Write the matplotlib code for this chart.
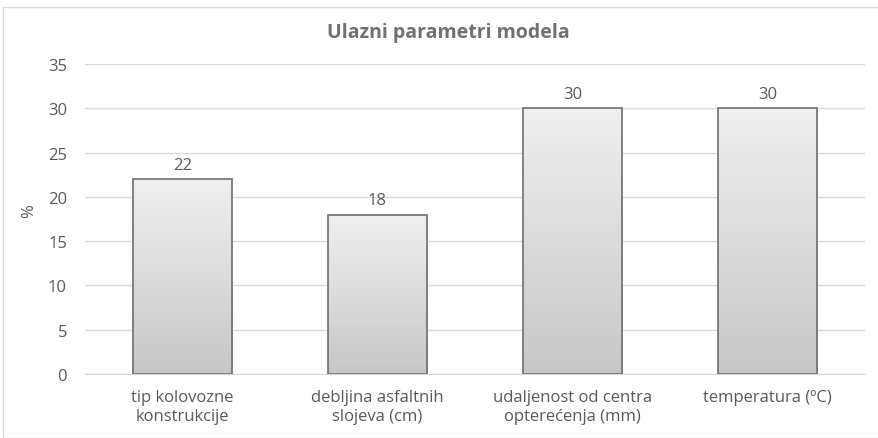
import numpy as np
import matplotlib.pyplot as plt
from matplotlib.patches import Rectangle

categories = ['tip kolovozne\nkonstrukcije', 'debljina asfaltnih\nslojeva (cm)',
              'udaljenost od centra\nopterećenja (mm)', 'temperatura (ºC)']
values = [22, 18, 30, 30]
yticks = [0, 5, 10, 15, 20, 25, 30, 35]

plt.rcParams['font.family'] = ['Open Sans', 'DejaVu Sans']
text_col = '#595959'

fig = plt.figure(figsize=(8.79, 4.39), dpi=100)
ax = fig.add_axes([85 / 879, 64 / 439, 780 / 879, 310 / 439])

# outer chart border
fig.patches.append(Rectangle((3 / 879, 0), 1, 1 - 8 / 439, transform=fig.transFigure,
                             fill=False, edgecolor='#d9d9d9', linewidth=1))

x = np.arange(len(values))
bars = ax.bar(x, values, width=0.51, color='none', edgecolor='#6e6e6e', linewidth=1.2, zorder=3)

grad = np.linspace(0.94, 0.78, 256).reshape(-1, 1)
for b in bars:
    x0, y0 = b.get_x(), b.get_y()
    im = ax.imshow(np.dstack([grad, grad, grad]), extent=[x0, x0 + b.get_width(), y0, y0 + b.get_height()],
                   aspect='auto', zorder=2, origin='upper')
    im.set_clip_path(b)

for xi, v in zip(x, values):
    ax.text(xi, v + 0.7, str(v), ha='center', va='bottom', fontsize=12, color=text_col)

ax.set_xlim(-0.5, len(values) - 0.5)
ax.set_ylim(0, 35)
ax.set_yticks(yticks)
ax.set_xticks(x)
ax.set_xticklabels(categories, fontsize=12, color=text_col, linespacing=1.25)
ax.tick_params(axis='y', labelsize=12, labelcolor=text_col, length=0, pad=13)
ax.tick_params(axis='x', length=0, pad=11)
ax.grid(axis='y', color='#d9d9d9', linewidth=1, zorder=0)
for s in ['top', 'right', 'left']:
    ax.spines[s].set_visible(False)
ax.spines['bottom'].set_color('#d9d9d9')
ax.set_ylabel('%', fontsize=12, color=text_col)
ax.yaxis.set_label_coords(-0.062, 0.53)
fig.text(448 / 879, 1 - 33 / 439, 'Ulazni parametri modela', ha='center', va='center',
         fontsize=14, fontweight='bold', color='#707070')

fig.savefig('out.png', dpi=100)
